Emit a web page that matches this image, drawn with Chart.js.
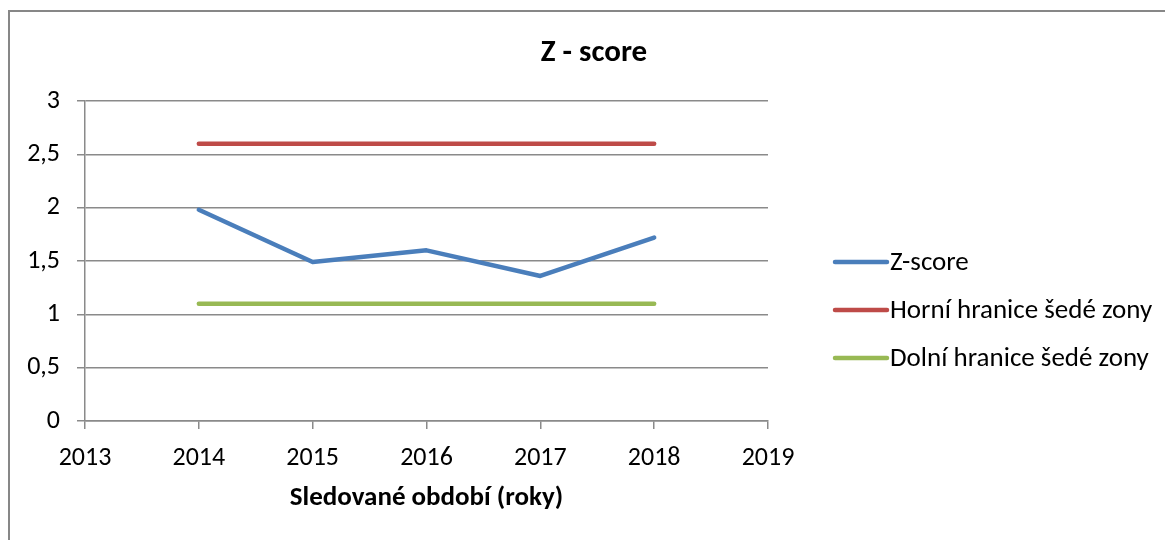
<!DOCTYPE html>
<html>
<head>
<meta charset="utf-8">
<script src="https://cdn.jsdelivr.net/npm/chart.js@4/dist/chart.umd.min.js"></script>
<style>
  html, body { margin: 0; padding: 0; background: #fff; overflow: hidden; width: 1165px; height: 540px; }
  #frame { position: absolute; left: 8px; top: 10px; width: 1200px; height: 600px; border: 2px solid #878787; }
  #wrap { position: absolute; left: 0; top: 0; width: 1188px; height: 540px; }
</style>
</head>
<body>
<div id="frame"></div>
<div id="wrap"><canvas id="zChart" width="1188" height="540"></canvas></div>
<script>
// data
const roky = [2014, 2015, 2016, 2017, 2018];
const zScore = [1.98, 1.49, 1.60, 1.36, 1.72];
const horniHranice = [2.6, 2.6, 2.6, 2.6, 2.6];
const dolniHranice = [1.1, 1.1, 1.1, 1.1, 1.1];
const nazvySerii = ['Z-score', 'Horní hranice šedé zony', 'Dolní hranice šedé zony'];
const nadpis = 'Z - score';
const barvy = ['#4a7ebb', '#be4b48', '#98b954'];

const FONT = "Carlito, Calibri, Lato, sans-serif";
const GRID = '#8a8a8a';

function body(values) {
  return roky.map((r, i) => ({ x: r, y: values[i] }));
}

// nadpis + legenda vpravo (kreslene rucne)
const nadpisALegenda = {
  id: 'nadpisALegenda',
  afterDraw(chart) {
    const ctx = chart.ctx;
    ctx.save();
    ctx.fillStyle = '#000';
    ctx.font = 'bold 31px ' + FONT;
    ctx.textAlign = 'center';
    ctx.textBaseline = 'middle';
    ctx.fillText(nadpis, chart.width / 2, 53);

    chart.data.datasets.forEach((ds, i) => {
      const y = 262 + i * 48;
      ctx.strokeStyle = ds.borderColor;
      ctx.lineWidth = 4.5;
      ctx.lineCap = 'round';
      ctx.beginPath();
      ctx.moveTo(835, y);
      ctx.lineTo(887, y);
      ctx.stroke();
      ctx.fillStyle = '#000';
      ctx.font = '27px ' + FONT;
      ctx.textBaseline = 'middle';
      ctx.textAlign = 'left';
      ctx.fillText(ds.label, 890, y + 1);
    });
    ctx.restore();
  }
};

const ctx = document.getElementById('zChart').getContext('2d');
new Chart(ctx, {
  type: 'line',
  data: {
    datasets: [zScore, horniHranice, dolniHranice].map((vals, i) => ({
      label: nazvySerii[i],
      data: body(vals),
      borderColor: barvy[i],
      backgroundColor: barvy[i],
      borderWidth: 4.5,
      borderCapStyle: 'round',
      borderJoinStyle: 'round',
      pointRadius: 0,
      tension: 0,
      fill: false
    }))
  },
  options: {
    responsive: false,
    animation: false,
    layout: { padding: { left: 0, right: 420, top: 101, bottom: 0 } },
    plugins: {
      legend: { display: false },
      tooltip: { enabled: false },
      title: { display: false }
    },
    scales: {
      x: {
        type: 'linear',
        min: 2013,
        max: 2019,
        ticks: {
          stepSize: 1,
          color: '#000',
          font: { family: FONT, size: 26 },
          padding: 14,
          maxRotation: 0,
          callback: v => String(v)
        },
        grid: { drawOnChartArea: false, drawTicks: true, tickLength: 8, color: GRID, lineWidth: 1.5 },
        border: { display: true, color: GRID, width: 1.5 },
        title: {
          display: true,
          text: 'Sledované období (roky)',
          color: '#000',
          font: { family: FONT, size: 27, weight: 'bold' },
          padding: { top: 8, bottom: 26 }
        },
        afterFit: s => { s.height = 119; }
      },
      y: {
        min: 0,
        max: 3,
        ticks: {
          stepSize: 0.5,
          color: '#000',
          font: { family: FONT, size: 26 },
          padding: 17,
          callback: v => String(v).replace('.', ',')
        },
        grid: { color: GRID, lineWidth: 1.5, tickLength: 8, tickColor: GRID },
        border: { display: true, color: GRID, width: 1.5 },
        afterFit: s => { s.width = 85; }
      }
    }
  },
  plugins: [nadpisALegenda]
});
</script>
</body>
</html>
